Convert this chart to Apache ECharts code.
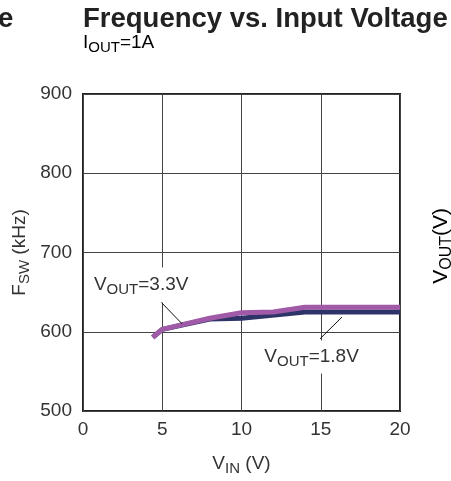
<!DOCTYPE html>
<html>
<head>
<meta charset="utf-8">
<script src="https://cdn.jsdelivr.net/npm/echarts@6/dist/echarts.min.js"></script>
<style>
html,body{margin:0;padding:0;background:#fff;}
#chart{width:451px;height:481px;}
</style>
</head>
<body>
<div id="chart"></div>
<script>
var byId = function(id){
	return document.getElementById(id);
};

// 数据
var xTicks = [0, 5, 10, 15, 20];
var yTicks = [500, 600, 700, 800, 900];
var vin18 = [4.4, 5, 8, 10, 14, 20];
var fsw18 = [593, 603, 616, 617, 625, 625];
var vin33 = [4.4, 5, 8, 10, 12, 14, 20];
var fsw33 = [593, 603, 617, 624, 625, 631, 631];

var pairs = function(xs, ys){
	return xs.map(function(x, i){ return [x, ys[i]]; });
};

var font = 'Liberation Sans, Arial, sans-serif';
var sub = {
	n: {fontSize: 19, fontFamily: font, color: '#333'},
	s: {fontSize: 15, fontFamily: font, color: '#333', padding: [10, 0, 0, 0]}
};
var subBig = {
	n: {fontSize: 21, fontFamily: font, color: '#333'},
	s: {fontSize: 16, fontFamily: font, color: '#333', padding: [11, 0, 0, 0]}
};

var chartOption = {
	animation: false,
	grid: {
		left: 83,
		right: 51,
		top: 94,
		bottom: 70,
		show: true,
		borderColor: '#222',
		borderWidth: 2
	},
	graphic: [
		{type: 'text', left: 83, top: 5, style: {text: 'Frequency vs. Input Voltage', font: 'bold 27.5px ' + font, fill: '#222'}},
		{type: 'text', left: -2, top: 5, style: {text: 'e', font: 'bold 27.5px ' + font, fill: '#222'}},
		{type: 'text', left: 83, top: 33, style: {
			text: '{n|I}{s|OUT}{n|=1A}',
			rich: sub
		}},
		{type: 'text', left: 431, top: 208, rotation: Math.PI / 2, style: {
			text: '{n|V}{s|OUT}{n|(V)}', rich: subBig
		}}
	],
	xAxis: {
		type: 'value',
		min: 0,
		max: 20,
		interval: 5,
		name: '{n|V}{s|IN}{n| (V)}',
		nameLocation: 'middle',
		nameGap: 40,
		nameMoveOverlap: false,
		nameTextStyle: {rich: sub},
		axisLine: {show: false},
		axisTick: {show: false},
		axisLabel: {fontSize: 19, fontFamily: font, color: '#333', margin: 9},
		splitLine: {show: true, lineStyle: {color: '#444', width: 1}}
	},
	yAxis: {
		type: 'value',
		min: 500,
		max: 900,
		interval: 100,
		name: '{n|F}{s|SW}{n| (kHz)}',
		nameLocation: 'middle',
		nameGap: 51,
		nameMoveOverlap: false,
		nameRotate: 90,
		nameTextStyle: {rich: sub},
		axisLine: {show: false},
		axisTick: {show: false},
		axisLabel: {fontSize: 19, fontFamily: font, color: '#333', margin: 11},
		splitLine: {show: true, lineStyle: {color: '#444', width: 1}}
	},
	series: [{
		name: 'VOUT=1.8V',
		type: 'line',
		data: pairs(vin18, fsw18),
		symbol: 'none',
		lineStyle: {color: '#2e3468', width: 5},
		markLine: {
			silent: true,
			symbol: 'none',
			label: {show: false},
			lineStyle: {color: '#111', width: 1, type: 'solid'},
			data: [[{coord: [14.95, 591]}, {coord: [16.34, 618.6]}]]
		},
		markPoint: {
			symbol: 'circle',
			symbolSize: 1,
			itemStyle: {color: 'transparent'},
			label: {show: true, position: 'inside', formatter: '{n|V}{s|OUT}{n|=1.8V}', rich: sub,
				backgroundColor: '#fff', padding: [4, 3, 4, 3]},
			data: [{coord: [14.42, 568]}]
		}
	}, {
		name: 'VOUT=3.3V',
		type: 'line',
		data: pairs(vin33, fsw33),
		symbol: 'none',
		lineStyle: {color: '#a05aa8', width: 5},
		markLine: {
			silent: true,
			symbol: 'none',
			label: {show: false},
			lineStyle: {color: '#111', width: 1, type: 'solid'},
			data: [[{coord: [4.92, 637.5]}, {coord: [6.25, 610]}]]
		},
		markPoint: {
			symbol: 'circle',
			symbolSize: 1,
			itemStyle: {color: 'transparent'},
			label: {show: true, position: 'inside', formatter: '{n|V}{s|OUT}{n|=3.3V}', rich: sub,
				backgroundColor: '#fff', padding: [5, 3, 5, 3]},
			data: [{coord: [3.67, 659]}]
		}
	}]
};

var lineChart = echarts.init(byId('chart'));
lineChart.setOption(chartOption);
</script>
</body>
</html>
